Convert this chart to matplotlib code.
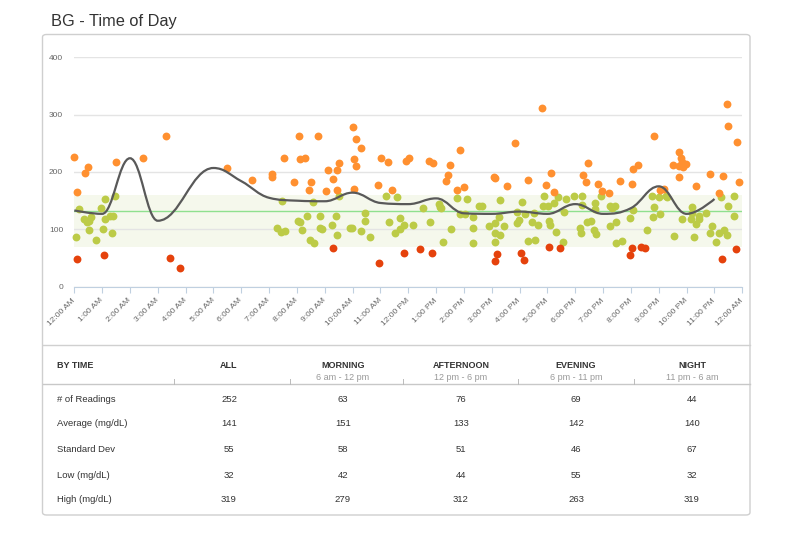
import matplotlib
matplotlib.use("Agg")
import matplotlib.pyplot as plt
from matplotlib.path import Path
from matplotlib.patches import PathPatch, FancyBboxPatch
from matplotlib.lines import Line2D

plt.rcParams['font.family'] = ['Liberation Sans', 'DejaVu Sans']

# readings above range (hour of day, mg/dL)
high_hours = [0.00, 0.09, 0.40, 0.48, 1.49, 2.46, 3.30, 5.48,
              6.37, 7.09, 7.12, 7.53, 7.91,
              8.07, 8.10, 8.28, 8.43, 8.49, 8.76, 9.04, 9.13, 9.31, 9.44, 9.45, 9.52,
              10.03, 10.05, 10.05, 10.11, 10.13, 10.29, 10.90, 11.03, 11.27, 11.40, 11.91, 12.03,
              12.73, 12.88, 13.35, 13.44, 13.49, 13.75, 13.86, 13.99, 15.09, 15.12, 15.56, 15.82,
              16.30, 16.81, 16.96, 17.14, 17.22,
              18.28, 18.38, 18.47, 18.83, 18.95, 19.22, 19.61, 20.05, 20.09, 20.24, 20.84,
              21.05, 21.20, 21.50, 21.73, 21.73, 21.74, 21.80, 21.82, 21.88, 21.96,
              22.34, 22.85, 23.18, 23.32, 23.44, 23.49, 23.80, 23.88]
high_bg = [227, 165, 198, 208, 217, 225, 262, 207,
           186, 197, 191, 224, 182,
           263, 223, 224, 168, 182, 263, 167, 203, 188, 168, 203, 215,
           279, 223, 171, 211, 258, 242, 178, 224, 217, 169, 220, 225,
           220, 216, 185, 195, 213, 168, 238, 174, 192, 189, 175, 250,
           186, 312, 177, 199, 165,
           195, 182, 215, 179, 167, 164, 185, 179, 205, 213, 263,
           169, 171, 213, 235, 191, 211, 225, 218, 208, 214,
           176, 197, 164, 193, 319, 281, 253, 183]

# readings in range
mid_hours = [0.06, 0.18, 0.34, 0.47, 0.54, 0.60, 0.54, 0.79, 0.95, 1.03, 1.11, 1.11, 1.28, 1.38, 1.35, 1.46,
             7.27, 7.43, 7.47, 7.58,
             8.03, 8.11, 8.17, 8.36, 8.47, 8.57, 8.61, 8.84, 8.84, 8.89, 9.26, 9.40, 9.45, 9.52,
             9.92, 9.98, 10.31, 10.43, 10.46, 10.61, 11.20, 11.32, 11.52, 11.60, 11.70, 11.70, 11.84,
             12.16, 12.54, 12.78, 13.09, 13.14, 13.17, 13.26, 13.52, 13.75, 13.86, 14.05, 14.10,
             14.34, 14.34, 14.34, 14.55, 14.64, 14.91, 15.12, 15.12, 15.12, 15.25, 15.30, 15.30,
             15.44, 15.92, 15.92, 15.99, 16.09, 16.19, 16.31, 16.46, 16.53, 16.55, 16.67,
             16.85, 16.88, 17.03, 17.07, 17.10, 17.24, 17.31, 17.38, 17.55, 17.60, 17.67, 17.97,
             18.17, 18.21, 18.25, 18.25, 18.43, 18.58, 18.67, 18.70, 18.71, 18.75, 18.91,
             19.25, 19.26, 19.31, 19.43, 19.45, 19.46, 19.67, 19.97, 20.09, 20.57, 20.75, 20.79,
             20.84, 21.01, 21.06, 21.26, 21.29, 21.56, 21.83, 22.16, 22.20, 22.20, 22.28, 22.34,
             22.44, 22.44, 22.69, 22.83, 22.91, 23.06, 23.15, 23.25, 23.34, 23.44, 23.50, 23.70, 23.70]
mid_bg = [87, 135, 118, 113, 115, 121, 99, 81, 137, 101, 153, 118, 123, 123, 94, 158,
          102, 95, 150, 97,
          115, 112, 98, 123, 82, 148, 76, 123, 102, 100, 107, 123, 90, 159,
          103, 102, 97, 128, 115, 87, 159, 112, 94, 157, 119, 101, 107,
          107, 137, 112, 144, 139, 137, 78, 100, 154, 127, 127, 153,
          122, 102, 76, 140, 141, 106, 111, 93, 78, 121, 151, 90,
          106, 111, 131, 117, 148, 127, 80, 112, 128, 82, 108,
          140, 159, 140, 114, 108, 146, 96, 156, 78, 131, 153, 158,
          102, 94, 159, 142, 112, 115, 99, 135, 146, 92, 159,
          140, 105, 137, 141, 112, 76, 80, 120, 134, 98, 159, 122,
          139, 157, 127, 159, 156, 89, 118, 118, 139, 128, 86, 110,
          123, 118, 129, 94, 105, 78, 93, 156, 99, 90, 140, 159, 123]

# readings below range
low_hours = [0.09, 1.06, 3.44, 3.81, 9.28, 10.96, 11.86, 12.43, 12.86, 15.12, 15.18,
             16.04, 16.16, 17.05, 17.44, 19.97, 20.03, 20.35, 20.51, 23.28, 23.79]
low_bg = [49, 55, 50, 32, 67, 42, 58, 65, 59, 44, 57,
          59, 47, 69, 68, 55, 67, 69, 68, 49, 66]

# hourly average (trend line)
avg_hours = [0, 1, 2, 3, 5, 6, 7, 8, 9, 10, 11, 12, 13, 14, 15, 16, 17, 18, 19, 20, 21, 22, 23]
avg_bg = [133, 127, 224, 115, 207, 184, 155, 150, 149, 164, 146, 144, 154, 128, 127, 131,
          127, 144, 127, 137, 175, 127, 153]

target_low, target_high, target_line = 70, 160, 132

hour_labels = ['12:00 AM'] + ['%d:00 AM' % h for h in range(1, 12)] + \
              ['12:00 PM'] + ['%d:00 PM' % h for h in range(1, 12)] + ['12:00 AM']

col_names = ['ALL', 'MORNING', 'AFTERNOON', 'EVENING', 'NIGHT']
col_subs = ['', '6 am - 12 pm', '12 pm - 6 pm', '6 pm - 11 pm', '11 pm - 6 am']
row_names = ['# of Readings', 'Average (mg/dL)', 'Standard Dev', 'Low (mg/dL)', 'High (mg/dL)']
table_vals = [[252, 63, 76, 69, 44],
              [141, 151, 133, 142, 140],
              [55, 58, 51, 46, 67],
              [32, 42, 44, 55, 32],
              [319, 279, 312, 263, 319]]

W, H = 800, 533


def fx(px):
    return px / W


def fy(py):
    return 1 - py / H


def spline_path(xs, ys, smooth=1.5):
    # bezier spline like highcharts draws it
    n = len(xs)
    left = [(xs[i], ys[i]) for i in range(n)]
    right = list(left)
    d = smooth + 1
    for i in range(1, n - 1):
        x, y = xs[i], ys[i]
        lx, ly = xs[i - 1], ys[i - 1]
        nx, ny = xs[i + 1], ys[i + 1]
        lcx, lcy = (smooth * x + lx) / d, (smooth * y + ly) / d
        rcx, rcy = (smooth * x + nx) / d, (smooth * y + ny) / d
        corr = (rcy - lcy) * (rcx - x) / (rcx - lcx) + y - rcy
        lcy += corr
        rcy += corr
        if lcy > ly and lcy > y:
            lcy = max(ly, y); rcy = 2 * y - lcy
        elif lcy < ly and lcy < y:
            lcy = min(ly, y); rcy = 2 * y - lcy
        if rcy > ny and rcy > y:
            rcy = max(ny, y); lcy = 2 * y - rcy
        elif rcy < ny and rcy < y:
            rcy = min(ny, y); lcy = 2 * y - rcy
        left[i] = (lcx, lcy)
        right[i] = (rcx, rcy)
    verts = [(xs[0], ys[0])]
    codes = [Path.MOVETO]
    for i in range(1, n):
        verts += [right[i - 1], left[i], (xs[i], ys[i])]
        codes += [Path.CURVE4] * 3
    return Path(verts, codes)


fig = plt.figure(figsize=(8, 5.33), dpi=100)

# card
card = FancyBboxPatch((fx(42.5), fy(515)), fx(750) - fx(42.5), fy(34.5) - fy(515),
                      boxstyle="round,pad=0,rounding_size=0.005", transform=fig.transFigure,
                      facecolor='white', edgecolor='#cfcfcf', linewidth=1, zorder=-1)
fig.add_artist(card)

fig.text(fx(51), fy(21.5), 'BG - Time of Day', fontsize=11.8, color='#333333', va='center')

ax = fig.add_axes([fx(74.3), fy(286.7), fx(742.3) - fx(74.3), fy(57.3) - fy(286.7)])
ax.set_facecolor('none')
ax.set_xlim(0, 24)
ax.set_ylim(0, 400)

ax.axhspan(target_low, target_high, color='#f5f8ec', zorder=0.1, lw=0)
ax.set_axisbelow(True)
ax.yaxis.grid(True, color='#e4e4e4', linewidth=1)
ax.axhline(target_line, color='#8fe08f', linewidth=1, zorder=1)

ax.scatter(mid_hours, mid_bg, s=32, color='#bccb47', linewidths=0, zorder=2, clip_on=False)
ax.scatter(high_hours, high_bg, s=32, color='#ff9030', linewidths=0, zorder=2, clip_on=False)
ax.scatter(low_hours, low_bg, s=32, color='#e5420c', linewidths=0, zorder=2, clip_on=False)

ax.add_patch(PathPatch(spline_path(avg_hours, avg_bg), fill=False,
                       edgecolor='#595959', linewidth=1.6, zorder=3))

ax.set_yticks([0, 100, 200, 300, 400])
ax.set_xticks(range(25))
ax.set_xticklabels(hour_labels, rotation=45, ha='right', va='center', rotation_mode='anchor')
ax.tick_params(axis='y', length=0, pad=8, labelsize=6, labelcolor='#666666')
ax.tick_params(axis='x', length=4, color='#c0d0e0', pad=5, labelsize=6, labelcolor='#666666')
for s in ['top', 'left', 'right']:
    ax.spines[s].set_visible(False)
ax.spines['bottom'].set_color('#c0d0e0')

# table
fig.add_artist(Line2D([fx(42.5), fx(750)], [fy(344.5)] * 2, color='#d0d0d0', lw=1))
fig.add_artist(Line2D([fx(42.5), fx(750)], [fy(384)] * 2, color='#c8c8c8', lw=1))
for tx in [174, 290, 403, 518, 634]:
    fig.add_artist(Line2D([fx(tx)] * 2, [fy(379), fy(384)], color='#bbbbbb', lw=0.7))

col_x = [229, 343, 461, 576, 692]
row_y = [399, 424, 449, 475, 500]
fig.text(fx(57), fy(365), 'BY TIME', fontsize=6.5, weight='bold', color='#333333', va='center')
for cx, name, sub in zip(col_x, col_names, col_subs):
    fig.text(fx(cx), fy(365), name, fontsize=6.5, weight='bold', color='#333333',
             ha='center', va='center')
    if sub:
        fig.text(fx(cx), fy(378), sub, fontsize=6.5, color='#999999', ha='center', va='center')
for ry, rname, vals in zip(row_y, row_names, table_vals):
    fig.text(fx(57), fy(ry), rname, fontsize=6.8, color='#333333', va='center')
    for cx, v in zip(col_x, vals):
        fig.text(fx(cx), fy(ry), str(v), fontsize=6.8, color='#333333', ha='center', va='center')

fig.savefig('out.png', dpi=100)
